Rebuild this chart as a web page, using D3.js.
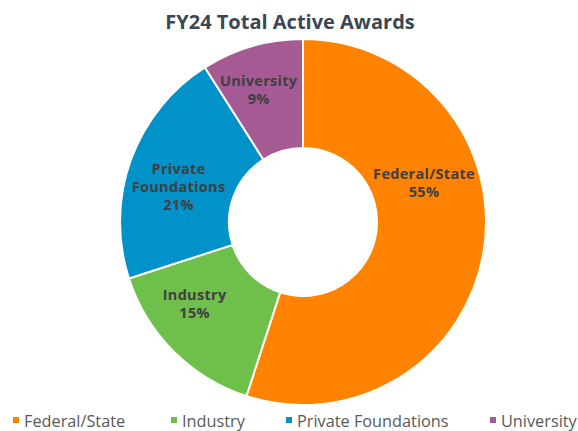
<!DOCTYPE html>
<html>
<head>
<meta charset="utf-8">
<script src="https://cdn.jsdelivr.net/npm/d3@7"></script>
<style>
  body { margin: 0; background: #fff; }
  svg { display: block; }
</style>
</head>
<body>
<svg id="chart" width="578" height="431"></svg>
<script>
// data
var categories = ["Federal/State", "Industry", "Private Foundations", "University"];
var values = [55, 15, 21, 9];
var sliceLabels = [["Federal/State"], ["Industry"], ["Private", "Foundations"], ["University"]];
var colors = ["#FF8200", "#6FBF4B", "#0092C8", "#A55A94"];

// label placement tweaks, like Excel best-fit (degrees / px)
var labelNudge = [-28, 9, -3, -2];
var labelRadius = [128, 134, 130, 142];

var svg = d3.select("#chart"),
    width = +svg.attr("width"),
    height = +svg.attr("height");

var cx = 303, cy = 222,
    outerR = 183, innerR = 74;

svg.append("text")
    .attr("x", 290)
    .attr("y", 29)
    .attr("text-anchor", "middle")
    .style("font-family", "'Open Sans', sans-serif")
    .style("font-weight", "bold")
    .style("font-size", "20px")
    .style("fill", "#3B4753")
    .text("FY24 Total Active Awards");

var pie = d3.pie().sort(null).value(function(d) { return d; });
var arcs = pie(values);

var arc = d3.arc().innerRadius(innerR).outerRadius(outerR);

var g = svg.append("g").attr("transform", "translate(" + cx + "," + cy + ")");

g.selectAll("path")
    .data(arcs)
    .enter()
    .append("path")
    .attr("d", arc)
    .style("fill", function(d, i) { return colors[i]; })
    .style("stroke", "#fff")
    .style("stroke-width", 2);

var total = d3.sum(values);

var labels = g.selectAll("text.lbl")
    .data(arcs)
    .enter()
    .append("text")
    .attr("class", "lbl")
    .attr("text-anchor", "middle")
    .style("font-family", "'Open Sans', sans-serif")
    .style("font-weight", "bold")
    .style("font-size", "14.5px")
    .style("letter-spacing", "0.3px")
    .style("fill", "#404040")
    .attr("transform", function(d, i) {
        var a = (d.startAngle + d.endAngle) / 2 + labelNudge[i] * Math.PI / 180;
        var r = labelRadius[i];
        return "translate(" + (r * Math.sin(a)) + "," + (-r * Math.cos(a)) + ")";
    });

labels.each(function(d, i) {
    var lines = sliceLabels[i].concat([Math.round(d.value / total * 100) + "%"]);
    var t = d3.select(this);
    var lh = 18;
    var y0 = -(lines.length - 1) * lh / 2 + 8;
    lines.forEach(function(l, k) {
        t.append("tspan").attr("x", 0).attr("y", y0 + k * lh).text(l);
    });
});

// legend
var legendX = [13, 171, 286, 490];
var legend = svg.selectAll("g.legend")
    .data(categories)
    .enter()
    .append("g")
    .attr("class", "legend")
    .attr("transform", function(d, i) { return "translate(" + legendX[i] + ",427)"; });

legend.append("rect")
    .attr("x", 0)
    .attr("y", -10)
    .attr("width", 6)
    .attr("height", 6)
    .style("fill", function(d, i) { return colors[i]; });

legend.append("text")
    .attr("x", 11)
    .attr("y", 0)
    .style("font-family", "'Open Sans', sans-serif")
    .style("font-size", "16.3px")
    .style("fill", "#595959")
    .text(function(d) { return d; });
</script>
</body>
</html>
